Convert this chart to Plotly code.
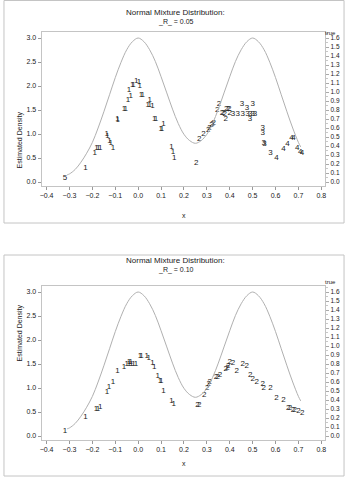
import plotly.graph_objects as go

# ---------------- data ----------------
# true mixture density (right axis "true")
curve_x = [-0.31, -0.3, -0.275, -0.25, -0.225, -0.2, -0.175, -0.15, -0.125, -0.1, -0.075,
           -0.05, -0.025, 0.0, 0.025, 0.05, 0.075, 0.1, 0.125, 0.15, 0.175, 0.2, 0.225,
           0.25, 0.275, 0.3, 0.325, 0.35, 0.375, 0.4, 0.425, 0.45, 0.475, 0.5, 0.525,
           0.55, 0.575, 0.6, 0.625, 0.65, 0.675, 0.7, 0.71]
curve_true = [0.08, 0.09, 0.14, 0.22, 0.32, 0.44, 0.60, 0.78, 0.97, 1.16, 1.33,
              1.47, 1.56, 1.60, 1.56, 1.47, 1.34, 1.17, 0.99, 0.81, 0.65, 0.53, 0.46,
              0.43, 0.46, 0.53, 0.65, 0.81, 0.99, 1.17, 1.34, 1.47, 1.56, 1.60, 1.56,
              1.47, 1.33, 1.16, 0.97, 0.78, 0.60, 0.44, 0.39]

# _R_ = 0.05 : estimated density, symbol = cluster number
r05_x = [-0.008, 0.004, 0.007, -0.026, -0.020, -0.040, -0.032, -0.045, 0.012, 0.020,
         0.050, 0.042, 0.050, 0.063, -0.062, -0.054, -0.090, -0.089, 0.070, 0.078,
         0.110, 0.098, 0.104, -0.137, -0.134, -0.125, -0.120, -0.110, -0.182, -0.174,
         -0.166, -0.190, -0.230, 0.145, 0.152, 0.158,
         0.254, 0.267, 0.285, 0.306, 0.312, 0.320, 0.330, 0.325, 0.345, 0.353,
         0.366, 0.372, 0.378, 0.385, 0.392, 0.398, 0.383, 0.400,
         0.453, 0.475, 0.500, 0.414, 0.435, 0.457, 0.478, 0.490, 0.500, 0.510,
         0.488, 0.544, 0.544, 0.548, 0.552, 0.578,
         0.604, 0.635, 0.652, 0.670, 0.678, 0.695, 0.708, 0.716,
         -0.320]
r05_y = [2.10, 2.09, 2.00, 2.02, 2.03, 1.92, 1.80, 1.71, 1.82, 1.82,
         1.71, 1.60, 1.60, 1.58, 1.52, 1.52, 1.32, 1.30, 1.32, 1.32,
         1.21, 1.10, 1.10, 1.00, 0.95, 0.86, 0.82, 0.71, 0.71, 0.71,
         0.71, 0.60, 0.29, 0.73, 0.62, 0.50,
         0.39, 0.90, 0.99, 1.08, 1.12, 1.19, 1.23, 1.21, 1.50, 1.62,
         1.44, 1.44, 1.42, 1.52, 1.52, 1.52, 1.31, 1.44,
         1.62, 1.54, 1.62, 1.42, 1.42, 1.42, 1.42, 1.42, 1.42, 1.42,
         1.31, 1.12, 1.02, 0.81, 0.80, 0.61,
         0.50, 0.69, 0.80, 0.91, 0.91, 0.71, 0.62, 0.61,
         0.08]
r05_lbl = ["1"] * 36 + ["2"] * 18 + ["3"] * 16 + ["4"] * 8 + ["5"]

# _R_ = 0.10
r10_x = [-0.320, -0.230, -0.184, -0.176, -0.166, -0.136, -0.127, -0.110, -0.090,
         -0.062, -0.050, -0.040, -0.030, -0.020, -0.010, -0.040, -0.032,
         0.008, 0.014, 0.037, 0.046, 0.063, 0.070, 0.085, 0.095, 0.101, 0.110,
         0.145, 0.155,
         0.259, 0.267, 0.288, 0.302, 0.308, 0.313, 0.340, 0.348, 0.357, 0.383,
         0.390, 0.393, 0.400, 0.414, 0.431, 0.457, 0.474, 0.490, 0.500, 0.518,
         0.544, 0.548, 0.578, 0.604, 0.635, 0.655, 0.663, 0.676, 0.684, 0.700,
         0.717]
r10_y = [0.10, 0.39, 0.56, 0.56, 0.60, 0.91, 1.03, 1.12, 1.35,
         1.43, 1.51, 1.51, 1.51, 1.51, 1.51, 1.55, 1.55,
         1.66, 1.66, 1.66, 1.63, 1.53, 1.43, 1.24, 1.14, 1.14, 0.93,
         0.72, 0.66,
         0.64, 0.64, 0.85, 1.01, 1.08, 1.12, 1.22, 1.22, 1.28, 1.39,
         1.42, 1.45, 1.55, 1.53, 1.35, 1.49, 1.45, 1.28, 1.18, 1.12,
         1.08, 1.01, 1.01, 0.80, 0.75, 0.58, 0.58, 0.54, 0.54, 0.52,
         0.48]
r10_lbl = ["1"] * 29 + ["2"] * 31

titles = ["Normal Mixture Distribution:", "Normal Mixture Distribution:"]
subtitles = ["_R_ = 0.05", "_R_ = 0.10"]
x_ticks = [-0.4, -0.3, -0.2, -0.1, 0.0, 0.1, 0.2, 0.3, 0.4, 0.5, 0.6, 0.7, 0.8]
y_ticks = [0.0, 0.5, 1.0, 1.5, 2.0, 2.5, 3.0]
true_ticks = [i / 10 for i in range(17)]

# ---------------- layout helpers ----------------
W, H = 350, 478
FONT = "Liberation Sans, Arial, sans-serif"
GRAY = "#c4c4c4"
TXT = "#222222"


def fy(py):
    return 1 - py / H


fig = go.Figure()
panels = [(0, r05_x, r05_y, r05_lbl), (254, r10_x, r10_y, r10_lbl)]
annotations = []
shapes = []

for i, (off, px, py, pl) in enumerate(panels):
    xa = "x" if i == 0 else "x3"
    ya = "y" if i == 0 else "y3"
    ya2 = "y2" if i == 0 else "y4"
    fig.add_trace(go.Scatter(x=curve_x, y=curve_true, mode="lines", line_shape="spline",
                             line=dict(color="#b0b0b0", width=1), xaxis=xa, yaxis=ya2,
                             hoverinfo="skip", showlegend=False))
    fig.add_trace(go.Scatter(x=px, y=py, text=pl, mode="text", textposition="middle center",
                             textfont=dict(family=FONT, size=8, color=TXT), xaxis=xa, yaxis=ya,
                             showlegend=False))
    xd = dict(domain=[40 / W, 326 / W], range=[-0.4216, 0.817], tickvals=x_ticks,
              tickformat=".1f", ticks="outside", ticklen=3, tickcolor="#999", showline=True,
              mirror=True, linecolor=GRAY, linewidth=1, showgrid=False, zeroline=False,
              tickfont=dict(family=FONT, size=7, color=TXT))
    yd = dict(domain=[fy(186 + off), fy(32 + off)], range=[-0.083, 3.125], tickvals=y_ticks,
              tickformat=".1f", ticks="outside", ticklen=3, tickcolor="#999", showline=True,
              mirror=True, linecolor=GRAY, linewidth=1, showgrid=False, zeroline=False,
              tickfont=dict(family=FONT, size=7, color=TXT))
    y2d = dict(range=[-0.0444, 1.667], tickvals=true_ticks, tickformat=".1f",
               ticks="outside", ticklen=3, tickcolor="#aaa", side="right",
               showline=False, showgrid=False, zeroline=False,
               minor=dict(dtick=0.05, ticklen=1.5, tickcolor="#c8c8c8", ticks="outside"),
               tickfont=dict(family=FONT, size=6.5, color=TXT))
    if i == 0:
        fig.update_layout(xaxis=dict(xd, anchor="y"), yaxis=dict(yd, anchor="x"),
                          yaxis2=dict(y2d, overlaying="y", anchor="x"))
    else:
        fig.update_layout(xaxis3=dict(xd, anchor="y3"), yaxis3=dict(yd, anchor="x3"),
                          yaxis4=dict(y2d, overlaying="y3", anchor="x3"))

    annotations += [
        dict(text=titles[i], x=175 / W, y=fy(6 + off), xref="paper", yref="paper",
             showarrow=False, font=dict(family=FONT, size=8, color=TXT)),
        dict(text=subtitles[i], x=175 / W, y=fy(16 + off), xref="paper", yref="paper",
             showarrow=False, font=dict(family=FONT, size=7, color=TXT)),
        dict(text="true", x=339 / W, y=fy(28 + off), xref="paper", yref="paper",
             showarrow=False, font=dict(family=FONT, size=6, color=TXT)),
        dict(text="Estimated Density", x=12 / W, y=fy(109 + off), xref="paper", yref="paper",
             textangle=-90, showarrow=False, font=dict(family=FONT, size=7, color=TXT)),
        dict(text="x", x=184 / W, y=fy(215 + off), xref="paper", yref="paper",
             showarrow=False, font=dict(family=FONT, size=7, color=TXT)),
    ]
    top = 0.5 if i == 0 else 255
    bot = 223 if i == 0 else 476
    shapes.append(dict(type="rect", xref="paper", yref="paper", x0=2 / W, x1=345 / W,
                       y0=fy(bot), y1=fy(top), line=dict(color=GRAY, width=1)))

fig.update_layout(width=W, height=H, margin=dict(l=0, r=0, t=0, b=0),
                  paper_bgcolor="white", plot_bgcolor="white",
                  annotations=annotations, shapes=shapes)

fig.write_html("out.html")
